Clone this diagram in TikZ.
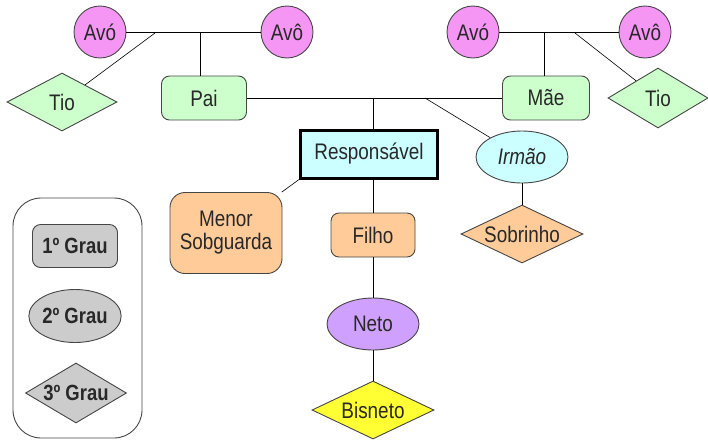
\documentclass[tikz,border=0pt]{standalone}
\usepackage{fontspec}
\setmainfont[FakeStretch=0.84]{Liberation Sans}
\usetikzlibrary{shapes.geometric}
\definecolor{avopink}{RGB}{245,150,245}
\definecolor{tiogreen}{RGB}{204,255,204}
\definecolor{respcyan}{RGB}{204,255,255}
\definecolor{filhoorange}{RGB}{255,204,153}
\definecolor{netopurple}{RGB}{208,160,255}
\definecolor{bisyellow}{RGB}{255,255,51}
\definecolor{graugray}{RGB}{204,204,204}
\definecolor{edgegray}{RGB}{70,70,70}
\definecolor{txtgray}{RGB}{40,40,40}

\begin{document}
\begin{tikzpicture}[x=1pt, y=-1pt,
  every node/.style={font=\fontsize{22.5}{23}\selectfont, text=txtgray, inner sep=0pt},
  shp/.style={draw=edgegray, line width=0.9pt},
  avo/.style={shp, circle, fill=avopink, minimum size=52},
  caixa/.style={shp, rectangle, rounded corners=8, minimum width=85, minimum height=44},
  oval/.style={shp, ellipse, minimum width=92, minimum height=52},
  losango/.style={shp, diamond, aspect=2, minimum width=122, minimum height=58},
  link/.style={black, line width=0.9pt},
  fino/.style={black, line width=0.6pt}
]
  \useasboundingbox (0,0) rectangle (708,440);

  % Avos paternos
  \node[avo] (avoP) at (100,32) {Avó};
  \node[avo] (avoP2) at (287,32) {Avô};
  \coordinate (casalP) at (200,33);
  \coordinate (tioP) at (155,33);
  \node[losango, fill=tiogreen, minimum width=110] (tioL) at (62,102) {Tio};
  \node[caixa, fill=tiogreen] (pai) at (204,98) {Pai};

  % Avos maternos
  \node[avo] (avoM) at (473,32) {Avó};
  \node[avo] (avoM2) at (645,32) {Avô};
  \coordinate (casalM) at (544,33);
  \coordinate (tioM) at (575,33);
  \node[losango, fill=tiogreen, minimum width=100, minimum height=60] (tioR) at (658,98) {Tio};
  \node[caixa, fill=tiogreen, minimum width=87] (mae) at (546,98) {Mãe};

  % Responsavel
  \coordinate (casal) at (373,98);
  \coordinate (irmaoJ) at (425,98);
  \node[shp, rectangle, fill=respcyan, line width=3pt, draw=black, minimum width=137, minimum height=48] (resp) at (369,154) {Responsável};
  \node[oval, fill=respcyan] (irmao) at (522,157) {\itshape Irmão};
  \node[losango, fill=filhoorange] (sobrinho) at (522,234) {Sobrinho};
  \node[caixa, fill=filhoorange, rounded corners=15, minimum width=112, minimum height=81, align=center] (menor) at (226,233) {Menor\\Sobguarda};
  \node[caixa, fill=filhoorange, minimum width=84] (filho) at (373,235) {Filho};
  \node[oval, fill=netopurple] (neto) at (373,324) {Neto};
  \node[losango, fill=bisyellow] (bisneto) at (373,410) {Bisneto};

  % Ligacoes
  \draw[link] (avoP) -- (avoP2);
  \draw[link] (casalP) -- (casalP |- pai.north);
  \draw[fino] (tioP) -- (tioL);
  \draw[link] (avoM) -- (avoM2);
  \draw[link] (casalM) -- (casalM |- mae.north);
  \draw[fino] (tioM) -- (tioR);
  \draw[link] (pai) -- (mae);
  \draw[link] (casal) -- (casal |- resp.north);
  \draw[fino] (irmaoJ) -- (irmao);
  \draw[link] (irmao) -- (sobrinho);
  \draw[fino] (resp.south west) -- (menor);
  \draw[link] (filho |- resp.south) -- (filho);
  \draw[link] (filho) -- (neto);
  \draw[link] (neto) -- (bisneto);

  % Legenda
  \node[shp, rectangle, rounded corners=28, minimum width=129, minimum height=240] (legenda) at (77.5,318) {};
  \node[caixa, fill=graugray, minimum height=43, font=\fontsize{22}{23}\selectfont\bfseries] (grau1) at (75,246) {1º Grau};
  \node[oval, fill=graugray, minimum width=91, minimum height=53, font=\fontsize{22}{23}\selectfont\bfseries] (grau2) at (75,316) {2º Grau};
  \node[shp, diamond, fill=graugray, minimum width=101, minimum height=60] (grau3) at (76,393) {};
  \node[font=\fontsize{22}{23}\selectfont\bfseries] (grau3t) at (grau3) {3º Grau};
\end{tikzpicture}
\end{document}
